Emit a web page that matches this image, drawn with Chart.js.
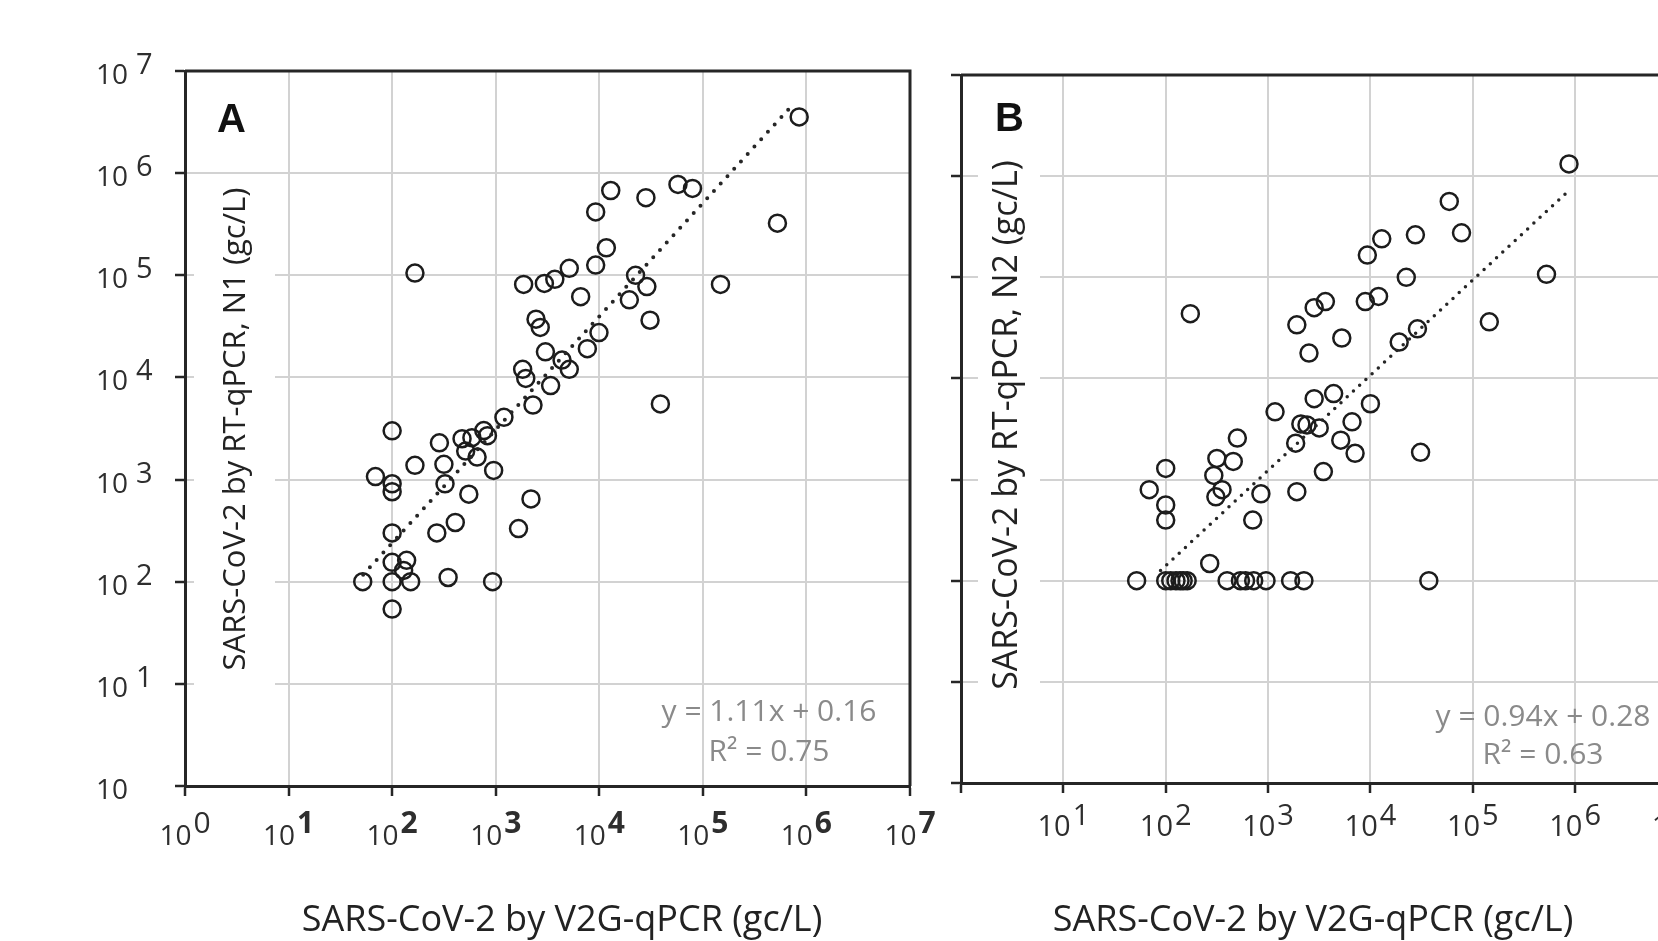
<!DOCTYPE html>
<html lang="en">
<head>
<meta charset="UTF-8">
<title>SARS-CoV-2 V2G-qPCR vs RT-qPCR</title>
<script src="https://cdn.jsdelivr.net/npm/chart.js"></script>
<style>
  html, body { margin: 0; padding: 0; background: #fff; overflow: hidden; }
  #wrap { position: relative; width: 1658px; height: 941px; overflow: hidden; }
  #chartA { position: absolute; left: 0; top: 0; }
  #chartB { position: absolute; left: 930px; top: 0; }
</style>
</head>
<body>
<div id="wrap">
  <canvas id="chartA" width="940" height="941"></canvas>
  <canvas id="chartB" width="800" height="941"></canvas>
</div>
<script>
// decades used for ticks and grid
const decades = [1, 10, 100, 1e3, 1e4, 1e5, 1e6, 1e7];
// tick label exponents (null = no label, '' = plain "10")
const yTickSupA = ['', '1', '2', '3', '4', '5', '6', '7'];
const xTickSupA = ['0', '1', '2', '3', '4', '5', '6', '7'];
const xTickSupB = [null, '1', '2', '3', '4', '5', '6', '7'];

const axisTitleX = 'SARS-CoV-2 by V2G-qPCR (gc/L)';
const yTitleA = 'SARS-CoV-2 by RT-qPCR, N1 (gc/L)';
const yTitleB = 'SARS-CoV-2 by RT-qPCR, N2 (gc/L)';
const eqA = ['y = 1.11x + 0.16', 'R² = 0.75'];
const eqB = ['y = 0.94x + 0.28', 'R² = 0.63'];

// panel A : V2G-qPCR (x) vs N1 (y), gc/L
const v2gA = [100, 69, 100, 100, 166, 286, 316, 324, 550, 955,
  100, 270, 407, 100, 138, 129, 52, 100, 151, 347,
  933, 100, 1660, 2190, 2290, 1200, 473, 589, 767, 832,
  513, 661, 12900, 9230, 28200, 57500, 79400, 525000, 11700, 9230,
  5130, 3720, 2950, 1860, 6610, 22400, 28800, 19500, 148000, 30900,
  2450, 2690, 3020, 4370, 5130, 7670, 9930, 1820, 1950, 3390,
  38900, 851000, 166];
const n1A = [3000, 1070, 910, 760, 1380, 2290, 1410, 910, 720, 1230,
  300, 300, 380, 155, 162, 129, 100, 100, 100, 110,
  100, 54, 331, 646, 5370, 4070, 2510, 2570, 3020, 2690,
  1900, 1660, 676000, 417000, 575000, 776000, 708000, 324000, 186000, 126000,
  117000, 91200, 83200, 81300, 61700, 100000, 77600, 57500, 81300, 36300,
  37200, 30900, 17800, 14800, 12000, 19100, 27500, 12000, 9770, 8320,
  5500, 3550000, 105000];

// panel B : V2G-qPCR (x) vs N2 (y), gc/L
const v2gB = [52, 100, 112, 126, 138, 148, 162, 398, 537, 603,
  724, 955, 1660, 2240, 37200, 269, 100, 69, 100, 100,
  316, 457, 501, 295, 309, 355, 851, 708, 1910, 3470,
  1170, 1860, 2090, 2400, 3160, 2820, 4370, 5130, 6610, 7080,
  174, 1910, 2820, 3630, 2510, 5250, 9330, 12900, 27500, 8910,
  12000, 22400, 19100, 28800, 10000, 30900, 871000, 58900, 77600, 525000,
  145000];
const n2B = [100, 100, 100, 100, 100, 100, 100, 100, 100, 100,
  100, 100, 100, 100, 100, 148, 1290, 794, 562, 398,
  1620, 1510, 2570, 1100, 676, 794, 724, 398, 759, 1200,
  4680, 2290, 3550, 3470, 3240, 6310, 7080, 2450, 3720, 1820,
  43700, 33900, 50100, 57500, 17800, 25100, 166000, 240000, 263000, 57500,
  64600, 100000, 22900, 30900, 5620, 1860, 1320000, 562000, 275000, 107000,
  36300];

// trend line end points
const trendA_x = [52.5, 708000];
const trendA_y = [117, 4470000];
const trendB_x = [89, 832000];
const trendB_y = [126, 692000];

const FONT = '"Open Sans", sans-serif';

function toPts(xs, ys) {
  return xs.map((x, i) => ({ x: x, y: ys[i] }));
}

// two part label "10" + raised exponent
function drawPow(ctx, x, py, sup, o, align) {
  ctx.font = o.baseFont;
  const wb = ctx.measureText('10').width;
  let ws = 0;
  if (sup) { ctx.font = o.supFont; ws = ctx.measureText(sup).width; }
  const total = sup ? wb + o.gap + ws : wb;
  let x0 = x;
  if (align === 'center') x0 = x - total / 2;
  ctx.textAlign = 'left';
  ctx.textBaseline = 'alphabetic';
  ctx.font = o.baseFont;
  ctx.fillText('10', x0, py + o.baseDy);
  if (sup) {
    ctx.font = o.supFont;
    ctx.fillText(sup, x0 + wb + o.gap, py + o.supDy);
  }
}

const decor = {
  id: 'decor',
  beforeDatasetsDraw(chart, args, o) {
    const ctx = chart.ctx, a = chart.chartArea;
    ctx.save();
    // white box behind the y title
    ctx.fillStyle = '#fff';
    ctx.fillRect(o.box[0], o.box[1], o.box[2] - o.box[0], o.box[3] - o.box[1]);
    // top / right frame
    ctx.strokeStyle = '#262626';
    ctx.lineWidth = 3;
    ctx.beginPath();
    ctx.moveTo(a.left, a.top);
    ctx.lineTo(a.right, a.top);
    if (o.rightBorder) ctx.lineTo(a.right, a.bottom);
    ctx.stroke();
    // y title
    ctx.fillStyle = '#222';
    ctx.font = o.yTitleFont;
    ctx.translate(o.yTitlePos[0], o.yTitlePos[1]);
    ctx.rotate(-Math.PI / 2);
    ctx.textAlign = 'center';
    ctx.textBaseline = 'middle';
    ctx.fillText(o.yTitle, 0, 0);
    ctx.restore();
  },
  afterDraw(chart, args, o) {
    const ctx = chart.ctx;
    const xs = chart.scales.x, ys = chart.scales.y;
    ctx.save();
    ctx.fillStyle = '#2e2e2e';
    if (o.ySup) {
      decades.forEach((v, i) => {
        if (o.ySup[i] === null) return;
        drawPow(ctx, o.yLab.x, ys.getPixelForValue(v), o.ySup[i], o.yLab, 'left');
      });
    }
    decades.forEach((v, i) => {
      if (o.xSup[i] === null) return;
      const lab = Object.assign({}, o.xLab);
      if (o.boldFrom !== undefined && i >= o.boldFrom) lab.supFont = 'bold ' + lab.supFont;
      drawPow(ctx, xs.getPixelForValue(v), o.xLab.y, o.xSup[i], lab, 'center');
    });
    // x title
    ctx.fillStyle = '#222';
    ctx.font = o.xTitleFont;
    ctx.textAlign = 'center';
    ctx.textBaseline = 'alphabetic';
    ctx.fillText(o.xTitle, o.xTitlePos[0], o.xTitlePos[1]);
    // equation
    ctx.fillStyle = '#8a8a8a';
    ctx.font = o.eqFont;
    ctx.fillText(o.eq[0], o.eqPos[0], o.eqPos[1]);
    ctx.fillText(o.eq[1], o.eqPos[0], o.eqPos[2]);
    // panel letter
    ctx.fillStyle = '#111';
    ctx.font = 'bold 40px "Liberation Sans", Arial, sans-serif';
    ctx.textAlign = 'left';
    ctx.fillText(o.letter, o.letterPos[0], o.letterPos[1]);
    ctx.restore();
  }
};

function axis(fitKey, fitVal) {
  const s = {
    type: 'logarithmic',
    min: 1,
    max: 1e7,
    afterBuildTicks: sc => { sc.ticks = decades.map(v => ({ value: v })); },
    ticks: { display: false },
    grid: { color: '#d2d2d2', lineWidth: 2, tickColor: '#262626', tickLength: 10, tickWidth: 2.5 },
    border: { color: '#262626', width: 3 }
  };
  s.afterFit = sc => { sc[fitKey] = fitVal; };
  return s;
}

function makeChart(id, pts, trend, cfg) {
  return new Chart(document.getElementById(id), {
    type: 'scatter',
    data: {
      datasets: [
        {
          type: 'line',
          data: trend,
          borderColor: '#262626',
          borderWidth: cfg.trendWidth,
          borderDash: [0, cfg.trendGap],
          borderCapStyle: 'round',
          pointRadius: 0,
          fill: false
        },
        {
          data: pts,
          pointStyle: 'circle',
          pointRadius: 8.5,
          pointBorderWidth: 2.5,
          pointBorderColor: '#1c1c1c',
          pointBackgroundColor: 'rgba(0,0,0,0)'
        }
      ]
    },
    options: {
      responsive: false,
      animation: false,
      events: [],
      layout: { padding: cfg.padding },
      scales: {
        x: axis('height', cfg.xh),
        y: axis('width', cfg.yw)
      },
      plugins: {
        legend: { display: false },
        tooltip: { enabled: false },
        decor: cfg.decor
      }
    },
    plugins: [decor]
  });
}

makeChart('chartA', toPts(v2gA, n1A), toPts(trendA_x, trendA_y), {
  padding: { left: 0, right: 30, top: 71, bottom: 0 },
  xh: 155, yw: 185, trendWidth: 4, trendGap: 10,
  decor: {
    box: [194, 182, 275, 692],
    rightBorder: true,
    yTitle: yTitleA, yTitleFont: '31px ' + FONT, yTitlePos: [236, 429],
    ySup: yTickSupA,
    yLab: { x: 96, baseFont: '28px ' + FONT, supFont: '29px ' + FONT, gap: 8, baseDy: 13, supDy: 3 },
    xSup: xTickSupA, boldFrom: 1,
    xLab: { y: 0, baseFont: '28px ' + FONT, supFont: '30px ' + FONT, gap: 2, baseDy: 845, supDy: 833 },
    xTitle: axisTitleX, xTitleFont: '36px ' + FONT, xTitlePos: [562, 931],
    eq: eqA, eqFont: '30px ' + FONT, eqPos: [769, 721, 761],
    letter: 'A', letterPos: [217, 132]
  }
});

makeChart('chartB', toPts(v2gB, n2B), toPts(trendB_x, trendB_y), {
  padding: { left: 0, right: 52.5, top: 75, bottom: 0 },
  xh: 158, yw: 31, trendWidth: 3.5, trendGap: 8.5,
  decor: {
    box: [48, 158, 110, 694],
    rightBorder: false,
    yTitle: yTitleB, yTitleFont: '34px ' + FONT, yTitlePos: [77, 425],
    ySup: null,
    xSup: xTickSupB,
    xLab: { y: 0, baseFont: '29px ' + FONT, supFont: '29px ' + FONT, gap: 2, baseDy: 836, supDy: 825 },
    xTitle: axisTitleX, xTitleFont: '36px ' + FONT, xTitlePos: [383, 931],
    eq: eqB, eqFont: '30px ' + FONT, eqPos: [613, 726, 764],
    letter: 'B', letterPos: [65, 131]
  }
});
</script>
</body>
</html>
